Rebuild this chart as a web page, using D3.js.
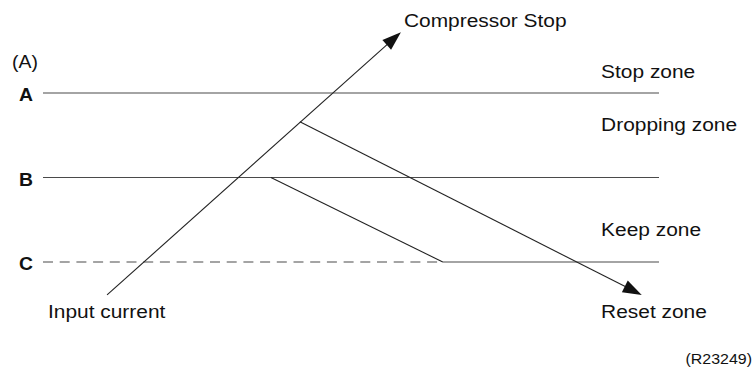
<!DOCTYPE html>
<html>
<head>
<meta charset="utf-8">
<script src="https://cdn.jsdelivr.net/npm/d3@7"></script>
<style>
  html, body { margin: 0; padding: 0; background: #fff; }
  svg { display: block; }
  text { font-family: "Liberation Sans", Arial, Helvetica, sans-serif; fill: #111; }
</style>
</head>
<body>
<svg id="chart" width="753" height="367"></svg>
<script>
// ---- data ----
const levelNames = ["A", "B", "C"];
const levelValues = [3, 2, 1];
const dashedUntil = [null, null, 64.9];          // C is dashed up to this x-unit, solid after
const zoneLabels = ["Stop zone", "Dropping zone", "Keep zone", "Reset zone"];
const zoneValues = [3.18, 2.55, 1.31, 0.34];     // baseline position in level units
const inputLine = [[10.4, 0.61], [58.1, 3.72]];  // Input current -> Compressor Stop
const dropLine = [[41.7, 2.66], [97.2, 0.61]];   // dropping -> reset
const keepLine = [[37.0, 2.0], [64.9, 1.0]];     // B -> C
const axisTitle = "(A)";
const startLabel = "Input current";
const endLabel = "Compressor Stop";
const refLabel = "(R23249)";

// ---- layout ----
const svg = d3.select("#chart");
const x = d3.scaleLinear().domain([0, 100]).range([43, 659]);
const y = d3.scaleLinear().domain([1, 3]).range([262, 93]);
const ink = "#222";
const lineGray = "#4a4a4a";
const sx = 1.1;

function label(txt, px, py, opts = {}) {
  const t = svg.append("text")
    .attr("transform", `translate(${px},${py}) scale(${opts.scale || sx},1)`)
    .attr("font-size", opts.size || 19)
    .attr("font-weight", opts.weight || "normal")
    .attr("text-anchor", opts.anchor || "start")
    .text(txt);
  return t;
}

// level lines
levelNames.forEach((n, i) => {
  const v = levelValues[i];
  const d = dashedUntil[i];
  if (d != null) {
    svg.append("line").attr("x1", x(0)).attr("x2", x(d))
      .attr("y1", y(v)).attr("y2", y(v))
      .attr("stroke", lineGray).attr("stroke-width", 1.2)
      .attr("stroke-dasharray", "10,6.7");
    svg.append("line").attr("x1", x(d)).attr("x2", x(100))
      .attr("y1", y(v)).attr("y2", y(v))
      .attr("stroke", lineGray).attr("stroke-width", 1.2);
  } else {
    svg.append("line").attr("x1", x(0)).attr("x2", x(100))
      .attr("y1", y(v)).attr("y2", y(v))
      .attr("stroke", lineGray).attr("stroke-width", 1.2);
  }
  label(n, 26, y(v) + 8, { weight: "bold", anchor: "middle", scale: 1.02, size: 19 });
});

// lines with arrows
function seg(pts, arrow) {
  const p = pts.map(d => [x(d[0]), y(d[1])]);
  const [a, b] = p;
  const dx = b[0] - a[0], dy = b[1] - a[1];
  const L = Math.hypot(dx, dy), ux = dx / L, uy = dy / L;
  const hl = 19, hw = 6.5;
  const end = arrow ? [b[0] - ux * hl * 0.8, b[1] - uy * hl * 0.8] : b;
  svg.append("line").attr("x1", a[0]).attr("y1", a[1])
    .attr("x2", end[0]).attr("y2", end[1])
    .attr("stroke", ink).attr("stroke-width", 1.1);
  if (arrow) {
    const bx = b[0] - ux * hl, by = b[1] - uy * hl;
    const tri = [[b[0], b[1]], [bx - uy * hw, by + ux * hw], [bx + uy * hw, by - ux * hw]];
    svg.append("path").attr("d", d3.line()(tri) + "Z").attr("fill", "#111");
  }
}
seg(inputLine, true);
seg(dropLine, true);
seg(keepLine, false);

// texts
label(axisTitle, 12, 68, { size: 18.5, scale: 1.05 });
zoneLabels.forEach((z, i) => label(z, x(90.6), y(zoneValues[i])));
label(startLabel, 48, 318);
label(endLabel, 404, 27);
label(refLabel, 752, 364, { size: 14.5, anchor: "end" });
</script>
</body>
</html>
